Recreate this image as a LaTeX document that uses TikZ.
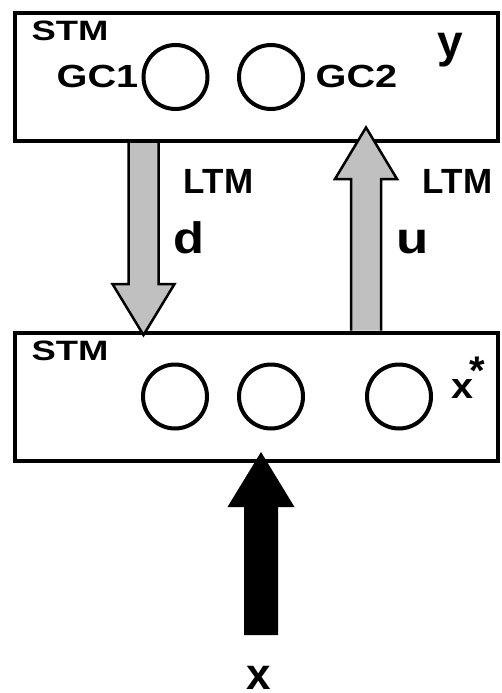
\documentclass[tikz,border=0pt]{standalone}
\usepackage{fontspec}
\setmainfont{Liberation Sans}
\usepackage{graphicx}
\usetikzlibrary{calc}
\definecolor{cLTM}{RGB}{192,192,192}

\begin{document}
\begin{tikzpicture}[
  x=1pt,y=-1pt,
  % one unit is one pixel of the page, y runs downwards
  stm/.style={draw,line width=4pt,outer sep=0pt,inner sep=0pt,
              minimum width=483pt,minimum height=128pt},
  cell/.style={draw,circle,line width=4pt,outer sep=0pt,inner sep=0pt,minimum size=64pt},
  lbl/.style={anchor=base,inner sep=0pt,font=\bfseries\fontsize{#1}{#1}\selectfont},
  fat/.style={draw,line width=2.5pt,line join=miter,fill=cLTM},
]
\useasboundingbox (0,0) rectangle (502,693);

% ------------------------------------------------------------------ two layers
\node[stm] (ytop) at (256.5,77)    {};
\node[stm] (xbot) at (256.5,396.5) {};

\node[cell] (gc1) at (175.5,77) {};
\node[cell] (gc2) at (271,77)   {};
\node[cell] (x1)  at (175,396.5) {};
\node[cell] (x2)  at (271,396.5) {};
\node[cell] (x3)  at (399,396.5) {};

% ------------------------------------------------------------------- labels
\node[lbl=28]   (stmy)  at (70,41)    {\scalebox{1.3}[1]{STM}};
\node[lbl=32]   (gc1l)  at (97.5,87)  {\scalebox{1.24}[1]{GC1}};
\node[lbl=32]   (gc2l)  at (356.5,87) {\scalebox{1.24}[1]{GC2}};
\node[lbl=46]   (ylbl)  at (450,57)   {y};
\node[lbl=28]   (stmx)  at (70,360)   {\scalebox{1.3}[1]{STM}};
\node[lbl=36,anchor=base west] (xslbl) at (451,398)
      {\scalebox{1.1}[1]{x}\kern-4pt\raisebox{14pt}{\fontsize{40}{40}\selectfont *}};
\node[lbl=35]   (ltmd)  at (218.5,193) {LTM};
\node[lbl=35]   (ltmu)  at (457.5,193) {LTM};
\node[lbl=44]   (dlbl)  at (189,253)   {\scalebox{1.15}[1]{d}};
\node[lbl=44]   (ulbl)  at (413,253)   {\scalebox{1.2}[1]{u}};
\node[lbl=44]   (xin)   at (258.5,689) {x};

% -------------------------------------------------------- block arrows
\coordinate (dtail) at ($(143.5,0 |- ytop.south)+(0,2)$);
\coordinate (dtip)  at ($(143.5,0 |- xbot.north)+(0,2.5)$);
\coordinate (utail) at ($(366,0 |- xbot.north)+(0,-2)$);
\coordinate (utip)  at ($(366,0 |- ytop.south)+(0,-13.5)$);
\coordinate (xtail) at (261,635);
\coordinate (xtip)  at ($(261,0 |- xbot.south)+(0,-8.5)$);

% top-down (d)
\draw[fat] ($(dtail)+(-15,0)$) -- ($(dtip)+(-15,-51)$) -- ($(dtip)+(-31,-51)$)
      -- (dtip) -- ($(dtip)+(31,-51)$) -- ($(dtip)+(15,-51)$) -- ($(dtail)+(15,0)$);
% bottom-up (u)
\draw[fat] ($(utail)+(-15,0)$) -- ($(utip)+(-15,51.5)$) -- ($(utip)+(-31,51.5)$)
      -- (utip) -- ($(utip)+(31,51.5)$) -- ($(utip)+(15,51.5)$) -- ($(utail)+(15,0)$);
% input
\fill ($(xtail)+(-17,0)$) -- ($(xtip)+(-17,55)$) -- ($(xtip)+(-33.5,55)$)
      -- (xtip) -- ($(xtip)+(33.5,55)$) -- ($(xtip)+(17,55)$) -- ($(xtail)+(17,0)$) -- cycle;

\end{tikzpicture}
\end{document}
